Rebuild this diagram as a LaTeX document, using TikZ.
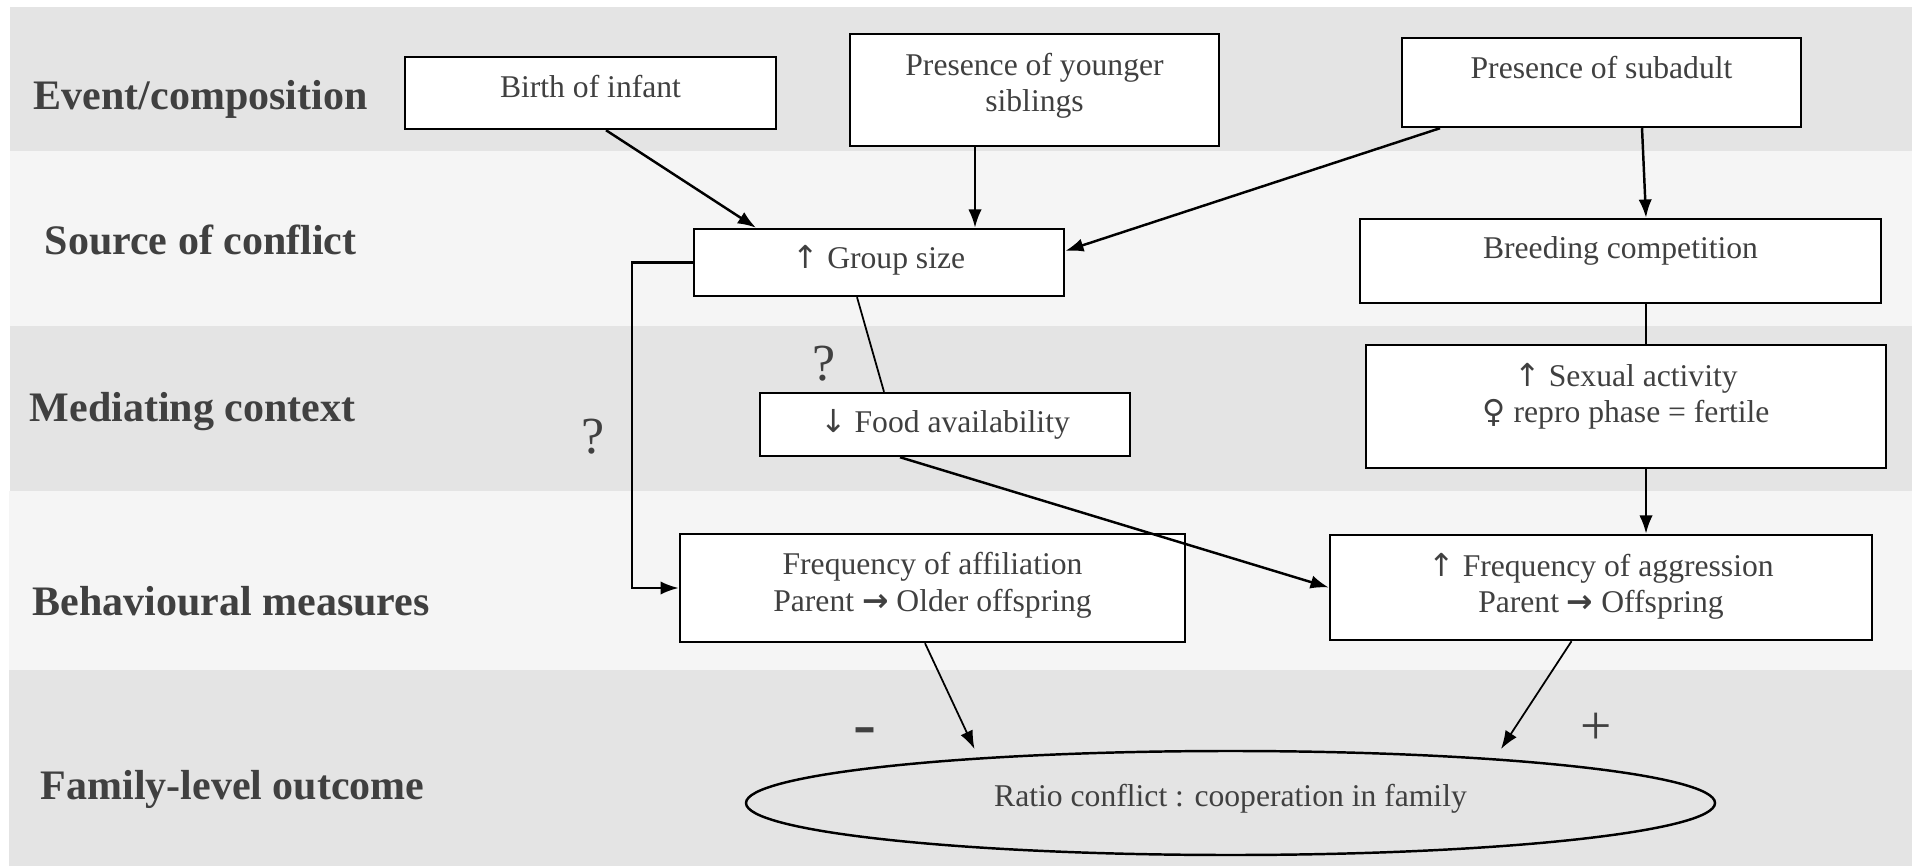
\documentclass[tikz,border=0pt]{standalone}
\usepackage{fontspec}
\setmainfont{Liberation Serif}
\newfontfamily\arrowfont{DejaVu Sans}
\usetikzlibrary{arrows.meta,shapes.geometric}
\definecolor{bandA}{HTML}{E4E4E4}
\definecolor{bandB}{HTML}{F5F5F5}
\definecolor{txt}{HTML}{404040}
\newcommand{\parr}{{\arrowfont\bfseries →}}
\newcommand{\upar}{{\arrowfont ↑}}
\newcommand{\downar}{{\arrowfont ↓}}
\newcommand{\femsign}{{\arrowfont ♀}}
\begin{document}
\begin{tikzpicture}[>={Latex[length=5.2pt,width=3.8pt]},x=1cm,y=1cm,
	box/.style={draw,fill=white,line width=0.7pt,inner sep=0pt,align=center,text=txt,
		font=\fontsize{9}{10.5}\selectfont,text height=0.25cm},
	level/.style={anchor=base west,inner sep=0pt,text=txt,font=\fontsize{11.95}{14}\selectfont\bfseries},
	sign/.style={anchor=base,inner sep=0pt,text=txt},
	link/.style={->,line width=0.7pt},
	thinlink/.style={line width=0.5pt}]
	\useasboundingbox (0,0) rectangle (19.12,8.66);
	% bands
	\fill[bandA] (0.10,7.15) rectangle (19.12,8.59);
	\fill[bandB] (0.10,5.40) rectangle (19.12,7.15);
	\fill[bandA] (0.10,3.75) rectangle (19.12,5.40);
	\fill[bandB] (0.09,1.96) rectangle (19.12,3.75);
	\fill[bandA] (0.09,0) rectangle (19.12,1.96);
	% level names
	\node[level] (ev) at (0.33,7.56) {Event/composition};
	\node[level] (src) at (0.44,6.11) {Source of conflict};
	\node[level] (med) at (0.29,4.44) {Mediating context};
	\node[level] (beh) at (0.32,2.51) {Behavioural measures};
	\node[level] (fam) at (0.40,0.67) {Family-level outcome};
	% boxes (two-line boxes sit on their last line)
	\node[box,minimum width=3.71cm,minimum height=0.72cm,text depth=0.15cm] (birth) at (5.905,7.73) {Birth of infant};
	\node[box,minimum width=3.69cm,minimum height=1.12cm,text height=0.44cm,text depth=0cm] (younger) at (10.345,7.76) {Presence of younger\\siblings};
	\node[box,minimum width=3.99cm,minimum height=0.89cm,text depth=0.32cm] (sub) at (16.015,7.835) {Presence of subadult};
	\node[box,minimum width=3.70cm,minimum height=0.67cm,text depth=0.12cm] (gs) at (8.79,6.035) {\upar{} Group size};
	\node[box,minimum width=5.21cm,minimum height=0.84cm,text depth=0.29cm] (breed) at (16.205,6.05) {Breeding competition};
	\node[box,minimum width=3.70cm,minimum height=0.63cm,text depth=0.08cm] (food) at (9.45,4.415) {\downar{} Food availability};
	\node[box,minimum width=5.20cm,minimum height=1.23cm,text height=0.33cm,text depth=0cm] (sex) at (16.26,4.595) {\upar{} Sexual activity\\\femsign{} repro phase = fertile};
	\node[box,minimum width=5.05cm,minimum height=1.08cm,text height=0.46cm,text depth=0cm] (aff) at (9.325,2.78) {Frequency of affiliation\\Parent \parr{} Older offspring};
	\node[box,minimum width=5.42cm,minimum height=1.05cm,text height=0.51cm,text depth=0cm] (agg) at (16.01,2.785) {\upar{} Frequency of aggression\\Parent \parr{} Offspring};
	\node[box,ellipse,fill=none,minimum width=9.69cm,minimum height=1.04cm,text depth=0.19cm] (ratio) at (12.305,0.63) {Ratio conflict : cooperation in family};
	% links
	\draw[link] ([xshift=0.155cm]birth.south) -- ([xshift=-1.23cm]gs.north);
	\draw[link] ([xshift=-0.595cm]younger.south) -- ([xshift=0.96cm]gs.north);
	\draw[link] ([xshift=-1.615cm]sub.south) -- ([yshift=0.115cm]gs.east);
	\draw[link] ([xshift=0.405cm]sub.south) -- ([xshift=0.255cm]breed.north);
	\draw[thinlink] ([xshift=0.255cm]breed.south) -- ([xshift=0.2cm]sex.north);
	\draw[thinlink] ([xshift=-0.22cm]gs.south) -- ([xshift=-0.61cm]food.north);
	\draw[link] (gs.west) -- ++(-0.61,0) |- (aff.west);
	\draw[link] ([xshift=-0.45cm]food.south) -- (agg.west);
	\draw[link] ([xshift=0.2cm]sex.south) -- ([xshift=0.45cm]agg.north);
	\draw[link,line width=0.5pt] ([xshift=-0.075cm]aff.south) -- ([shift={(-2.56,0.54)}]ratio.center);
	\draw[link,line width=0.5pt] ([xshift=-0.295cm]agg.south) -- ([shift={(2.705,0.54)}]ratio.center);
	% signs
	\node[sign,font=\fontsize{14.8}{16}\selectfont] (q1) at (8.24,4.85) {?};
	\node[sign,font=\fontsize{14.8}{16}\selectfont] (q2) at (5.93,4.12) {?};
	\node[sign,font=\fontsize{19.6}{22}\selectfont] (minus) at (8.645,1.20) {-};
	\node[sign,font=\fontsize{15.8}{18}\selectfont] (plus) at (15.96,1.22) {+};
\end{tikzpicture}
\end{document}
